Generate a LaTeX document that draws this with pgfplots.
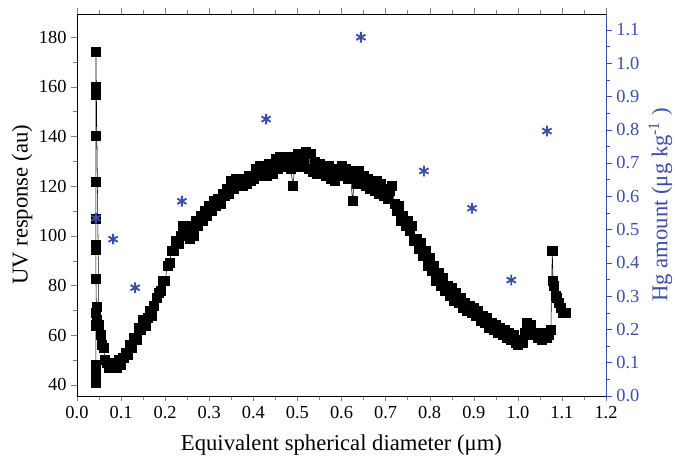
\documentclass[border=0pt]{standalone}
\usepackage{pgfplots}
\pgfplotsset{compat=1.18}
\usepackage{fontspec}
\setmainfont{Liberation Serif}
\definecolor{hgblue}{RGB}{58,78,170}

\begin{document}
\begin{tikzpicture}
\useasboundingbox (-57.75pt,-51pt) rectangle (448.75pt,297pt);
\pgfplotsset{
  every axis/.append style={scale only axis, width=397pt, height=286.5pt,
    xmin=0, xmax=1.2, tick align=outside,
    /pgf/number format/assume math mode=true,
    tick label style={font=\fontsize{13.8}{15}\selectfont},
    label style={font=\fontsize{17}{19}\selectfont}},
}
\begin{axis}[
  ymin=35.6, ymax=189.3,
  axis y line*=left,
  xtick={0,0.1,...,1.2}, minor x tick num=1,
  ytick={40,60,...,180}, minor y tick num=1,
  xticklabel style={/pgf/number format/.cd, fixed, fixed zerofill, precision=1},
  xlabel={Equivalent spherical diameter (μm)},
  ylabel={UV response (au)},
  xlabel style={yshift=-5pt},
  ylabel style={yshift=-2pt},
]
\addplot[black, thin, mark=square*, mark size=3.4pt] table[row sep=\\]{
x y \\
0.043 40.8 \\ 0.043 44.8 \\ 0.043 48 \\ 0.043 64 \\ 0.044 66 \\ 0.043 69 \\ 0.044 71.5 \\
0.043 82.6 \\ 0.043 94.3 \\ 0.043 96.3 \\ 0.043 107 \\ 0.043 121.7 \\ 0.043 140.2 \\
0.043 156.6 \\ 0.043 160 \\ 0.043 174 \\
0.050 64 \\ 0.053 60 \\ 0.056 56 \\ 0.060 55 \\ 0.064 50 \\ 0.068 49 \\ 0.072 47 \\
0.076 49 \\ 0.080 47 \\ 0.085 48 \\ 0.090 47 \\ 0.095 50 \\ 0.100 48 \\ 0.105 51 \\
0.110 53 \\ 0.115 52 \\ 0.120 56 \\ 0.125 55 \\ 0.130 59 \\ 0.135 58 \\ 0.140 63 \\
0.145 62 \\ 0.150 66 \\ 0.155 64 \\ 0.160 67 \\ 0.165 70 \\ 0.170 68 \\ 0.175 72 \\
0.180 75 \\ 0.185 77 \\ 0.190 78 \\ 0.195 82 \\ 0.200 82 \\ 0.205 88 \\ 0.210 89 \\
0.215 94 \\ 0.220 94 \\ 0.225 98 \\ 0.230 97 \\ 0.235 100 \\ 0.240 104 \\ 0.245 100 \\
0.250 104 \\ 0.255 99 \\ 0.260 104 \\ 0.265 100 \\ 0.270 106 \\ 0.275 104 \\ 0.280 108 \\
0.285 106 \\ 0.290 110 \\ 0.295 108 \\ 0.300 112 \\ 0.305 110 \\ 0.310 114 \\ 0.315 112 \\
0.320 115 \\ 0.325 113 \\ 0.330 117 \\ 0.335 116 \\ 0.340 119 \\ 0.345 117 \\ 0.350 122 \\
0.355 119 \\ 0.360 123 \\ 0.365 120 \\ 0.370 123 \\ 0.375 120 \\ 0.380 123 \\ 0.385 121 \\
0.390 124 \\ 0.395 122 \\ 0.400 123 \\ 0.405 127 \\ 0.410 124 \\ 0.415 128 \\ 0.420 125 \\
0.425 128 \\ 0.430 124 \\ 0.435 129 \\ 0.440 126 \\ 0.445 125 \\ 0.450 131 \\ 0.455 127 \\
0.460 132 \\ 0.465 128 \\ 0.470 131 \\ 0.475 128 \\ 0.480 132 \\ 0.485 127 \\ 0.490 120 \\
0.495 130 \\ 0.500 133 \\ 0.505 128 \\ 0.510 132 \\ 0.515 129 \\ 0.520 134 \\ 0.525 127 \\
0.530 133 \\ 0.535 126 \\ 0.540 130 \\ 0.545 125 \\ 0.550 129 \\ 0.555 125 \\ 0.560 128 \\
0.565 124 \\ 0.570 128 \\ 0.575 123 \\ 0.580 127 \\ 0.585 122 \\ 0.590 127 \\ 0.595 124 \\
0.600 128 \\ 0.605 124 \\ 0.610 127 \\ 0.615 123 \\ 0.620 126 \\ 0.625 114 \\ 0.630 124 \\
0.635 121 \\ 0.640 126 \\ 0.645 121 \\ 0.650 124 \\ 0.655 120 \\ 0.660 123 \\ 0.665 119 \\
0.670 122 \\ 0.675 118 \\ 0.680 122 \\ 0.685 117 \\ 0.690 121 \\ 0.695 116 \\ 0.700 119 \\
0.705 115 \\ 0.710 118 \\ 0.715 120 \\ 0.720 113 \\ 0.725 110 \\ 0.730 112 \\ 0.735 106 \\
0.740 108 \\ 0.745 104 \\ 0.750 106 \\ 0.755 102 \\ 0.760 104 \\ 0.765 98 \\ 0.770 99 \\
0.775 95 \\ 0.780 97 \\ 0.785 92 \\ 0.790 94 \\ 0.795 88 \\ 0.800 91 \\ 0.805 86 \\
0.810 88 \\ 0.815 82 \\ 0.820 85 \\ 0.825 80 \\ 0.830 83 \\ 0.835 78 \\ 0.840 80 \\
0.845 76 \\ 0.850 79 \\ 0.855 74 \\ 0.860 77 \\ 0.865 73 \\ 0.870 75 \\ 0.875 71 \\
0.880 73 \\ 0.885 70 \\ 0.890 72 \\ 0.895 69 \\ 0.900 71 \\ 0.905 68 \\ 0.910 70 \\
0.915 66 \\ 0.920 68 \\ 0.925 65 \\ 0.930 67 \\ 0.935 63 \\ 0.940 65 \\ 0.945 62 \\
0.950 64 \\ 0.955 61 \\ 0.960 63 \\ 0.965 60 \\ 0.970 62 \\ 0.975 59 \\ 0.980 61 \\
0.985 58 \\ 0.990 60 \\ 0.995 57 \\ 1.000 56 \\ 1.005 58 \\ 1.010 57 \\ 1.015 61 \\
1.020 65 \\ 1.025 62 \\ 1.030 64 \\ 1.035 60 \\ 1.040 61 \\ 1.045 59 \\ 1.050 60 \\
1.055 58 \\ 1.060 61 \\ 1.065 59 \\ 1.070 60 \\ 1.075 62 \\ 1.078 94 \\ 1.080 82 \\
1.082 80 \\ 1.085 76 \\ 1.088 75 \\ 1.092 73 \\ 1.097 71 \\ 1.102 69 \\ 1.108 69 \\
};
\end{axis}
\begin{axis}[
  ymin=0, ymax=1.148,
  axis y line*=right, axis x line=none,
  y axis line style={hgblue},
  ytick={0,0.1,...,1.1}, minor y tick num=1,
  ytick style={hgblue},
  yticklabel style={hgblue, /pgf/number format/.cd, fixed, fixed zerofill, precision=1},
  ylabel={Hg amount (μg kg\textsuperscript{-1} )},
  ylabel style={hgblue},
]
\addplot[only marks, hgblue, mark=asterisk, mark size=4pt, line width=1.4pt] table[row sep=\\]{
x y \\
0.043 0.534 \\ 0.082 0.471 \\ 0.132 0.325 \\ 0.238 0.585 \\ 0.429 0.832 \\
0.644 1.078 \\ 0.787 0.676 \\ 0.896 0.564 \\ 0.985 0.348 \\ 1.066 0.796 \\
};
\end{axis}
\end{tikzpicture}
\end{document}
